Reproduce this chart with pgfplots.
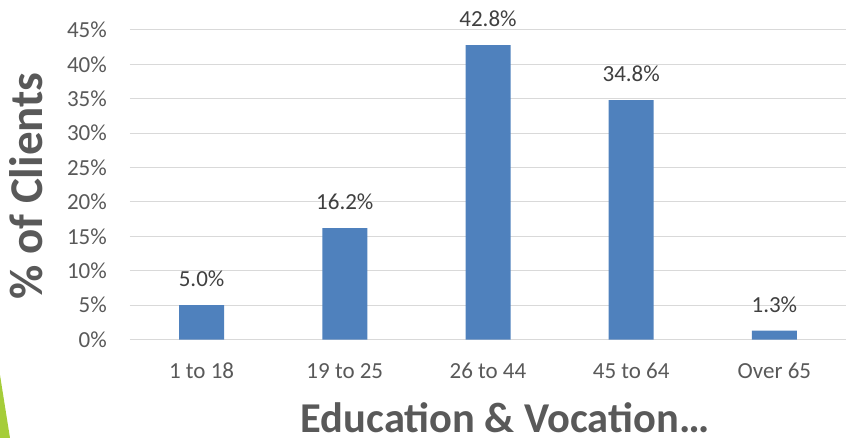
\documentclass[border=0pt]{standalone}
\usepackage{fontspec}
\setmainfont{Carlito}
\usepackage{pgfplots}
\pgfplotsset{compat=1.18}
\definecolor{barblue}{HTML}{4F81BD}
\definecolor{gridgray}{HTML}{D9D9D9}
\definecolor{ticktext}{HTML}{595959}
\definecolor{labeltext}{HTML}{404040}
\definecolor{slidegreen}{HTML}{A5CD39}
\begin{document}
\begin{tikzpicture}
\path[use as bounding box] (-130bp,-98.5bp) rectangle (716bp,339.5bp);
\fill[slidegreen] (-130bp,-98.5bp) -- (-130bp,-35.5bp) -- (-120bp,-98.5bp) -- cycle;
\begin{axis}[
  scale only axis,
  width=716bp, height=309.5bp,
  ybar, bar width=45bp,
  xmin=-0.5, xmax=4.5,
  ymin=0, ymax=45,
  xtick=data,
  xticklabels={1 to 18,19 to 25,26 to 44,45 to 64,Over 65},
  ytick={0,5,...,45},
  yticklabels={0\%,5\%,10\%,15\%,20\%,25\%,30\%,35\%,40\%,45\%},
  /pgf/number format/assume math mode=true,
  axis x line*=bottom,
  axis y line*=left,
  x axis line style={draw=gridgray, line width=1bp, -},
  y axis line style={draw=none},
  major tick length=0pt,
  ymajorgrids,
  grid style={gridgray, line width=1bp},
  tick label style={font=\fontsize{23bp}{27bp}\selectfont, text=ticktext, inner sep=0pt},
  xticklabel style={anchor=base, yshift=-38.5bp},
  yticklabel style={anchor=east, xshift=-23bp},
  clip=false,
  nodes near coords={\pgfmathprintnumber[fixed,fixed zerofill,precision=1]{\pgfplotspointmeta}\%},
  nodes near coords style={font=\fontsize{23bp}{27bp}\selectfont, text=labeltext, anchor=base, inner sep=0pt, yshift=18.5bp},
]
\addplot[fill=barblue, draw=none] coordinates {
  (0,5.0) (1,16.2) (2,42.8) (3,34.8) (4,1.3)
};
\end{axis}
\node[anchor=base, rotate=90, inner sep=0pt, text=ticktext, font=\fontsize{47bp}{54bp}\selectfont\bfseries]
  at (-87bp,153.5bp) {\% of Clients};
\node[anchor=base, inner sep=0pt, text=ticktext, font=\fontsize{42.5bp}{50bp}\selectfont\bfseries]
  at (375bp,-93.2bp) {Education \& Vocation…};
\end{tikzpicture}
\end{document}
